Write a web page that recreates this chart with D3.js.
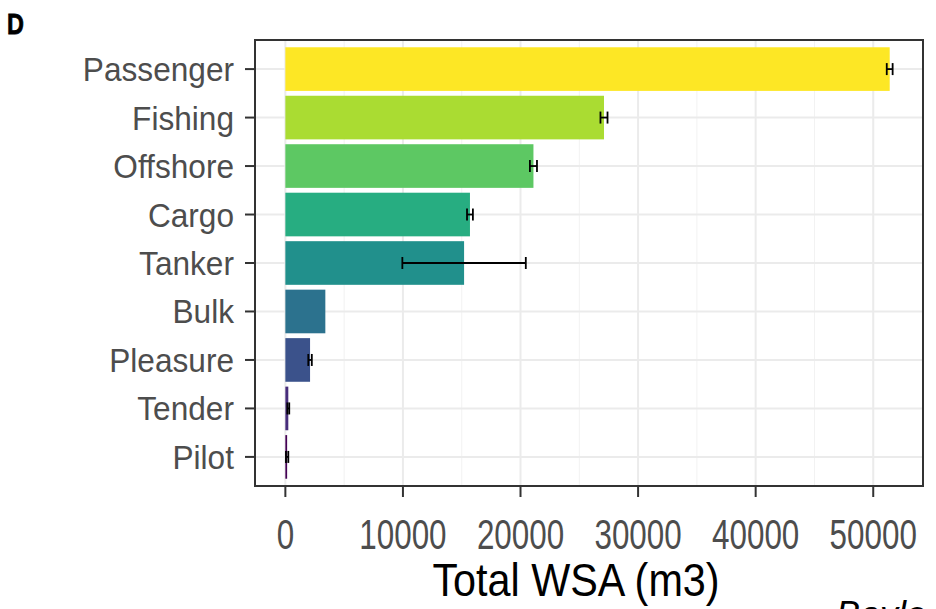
<!DOCTYPE html>
<html><head><meta charset="utf-8">
<script src="https://cdn.jsdelivr.net/npm/d3@7"></script>
<style>
html,body{margin:0;padding:0;background:#fff;}
svg{display:block;}
text{font-family:"Liberation Sans",Arial,sans-serif;}
</style></head>
<body>
<script>
const categories = ["Passenger","Fishing","Offshore","Cargo","Tanker","Bulk","Pleasure","Tender","Pilot"];
const values     = [51400, 27100, 21100, 15700, 15200, 3400, 2100, 250, 150];
const errors     = [250, 300, 300, 250, 5250, 0, 150, 80, 100];
const colors     = ["#FDE725","#AADC32","#5DC863","#27AD81","#21908C","#2C728E","#3B528B","#472D7B","#440154"];
const xTicks     = [0,10000,20000,30000,40000,50000];
const xMinor     = [5000,15000,25000,35000,45000];
const xTitle = "Total WSA (m3)";
const panelTag = "D";

const W=936,H=609;
const P={left:255,right:923,top:40,bottom:486};
const svg=d3.select("body").append("svg").attr("width",W).attr("height",H);

const hi=d3.max(values.map((v,i)=>v+errors[i])), lo=0, pad=0.05*(hi-lo);
const x=d3.scaleLinear().domain([lo-pad,hi+pad]).range([P.left,P.right]);
const y=d3.scalePoint().domain(categories).range([P.top,P.bottom]).padding(0.6);
const bh=y.step()*0.9;

// grid
const g=svg.append("g");
g.selectAll(".minor").data(xMinor).join("line")
 .attr("x1",d=>x(d)).attr("x2",d=>x(d)).attr("y1",P.top).attr("y2",P.bottom)
 .attr("stroke","#F2F2F2").attr("stroke-width",1);
g.selectAll(".major").data(xTicks).join("line")
 .attr("x1",d=>x(d)).attr("x2",d=>x(d)).attr("y1",P.top).attr("y2",P.bottom)
 .attr("stroke","#EBEBEB").attr("stroke-width",2);
g.selectAll(".hmajor").data(categories).join("line")
 .attr("y1",d=>y(d)).attr("y2",d=>y(d)).attr("x1",P.left).attr("x2",P.right)
 .attr("stroke","#EBEBEB").attr("stroke-width",2);

// bars
svg.append("g").selectAll("rect").data(categories).join("rect")
 .attr("x",x(0)).attr("y",d=>y(d)-bh/2)
 .attr("width",(d,i)=>Math.max(0,x(values[i])-x(0))).attr("height",bh)
 .attr("fill",(d,i)=>colors[i]);

// error bars
const cap=6;
const eb=svg.append("g").attr("stroke","#000").attr("stroke-width",1.8);
categories.forEach((c,i)=>{
  if(errors[i]<=0) return;
  const a=x(values[i]-errors[i]), b=x(values[i]+errors[i]), yy=y(c);
  eb.append("line").attr("x1",a).attr("x2",b).attr("y1",yy).attr("y2",yy);
  eb.append("line").attr("x1",a).attr("x2",a).attr("y1",yy-cap).attr("y2",yy+cap);
  eb.append("line").attr("x1",b).attr("x2",b).attr("y1",yy-cap).attr("y2",yy+cap);
});

// panel border
svg.append("rect").attr("x",P.left).attr("y",P.top).attr("width",P.right-P.left).attr("height",P.bottom-P.top)
 .attr("fill","none").attr("stroke","#333").attr("stroke-width",2);

// y axis ticks + labels
const ya=svg.append("g");
ya.selectAll("line").data(categories).join("line")
 .attr("x1",P.left-10).attr("x2",P.left).attr("y1",d=>y(d)).attr("y2",d=>y(d))
 .attr("stroke","#333").attr("stroke-width",2);
ya.selectAll("text").data(categories).join("text")
 .attr("transform",d=>`translate(${P.left-21},${y(d)+12}) scale(0.93,1)`)
 .attr("text-anchor","end").attr("font-size",34).attr("fill","#4D4D4D").text(d=>d);

// x axis ticks + labels
const xa=svg.append("g");
xa.selectAll("line").data(xTicks).join("line")
 .attr("x1",d=>x(d)).attr("x2",d=>x(d)).attr("y1",P.bottom).attr("y2",P.bottom+11)
 .attr("stroke","#333").attr("stroke-width",2);
xa.selectAll("text").data(xTicks).join("text")
 .attr("transform",d=>`translate(${x(d)},${P.bottom+63}) scale(0.73,1)`)
 .attr("text-anchor","middle").attr("font-size",43).attr("fill","#4D4D4D").text(d=>d);

svg.append("text").attr("transform",`translate(576,596) scale(0.88,1)`)
 .attr("text-anchor","middle").attr("font-size",47).attr("fill","#000").text(xTitle);

svg.append("text").attr("transform","translate(7,34) scale(0.78,1)")
 .attr("font-size",30).attr("font-weight","bold").attr("fill","#000")
 .attr("stroke","#000").attr("stroke-width",0.8).text(panelTag);

svg.append("text").attr("x",836).attr("y",627).attr("font-size",36).attr("font-style","italic")
 .attr("fill","#000").text("Bayle");
</script>
</body></html>
